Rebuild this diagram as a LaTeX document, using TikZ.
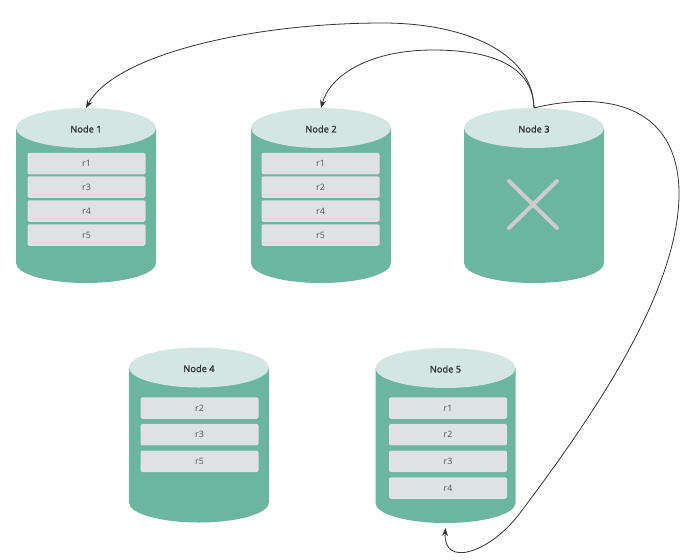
\documentclass[tikz,border=0pt]{standalone}
\usepackage{fontspec}
\setmainfont{Open Sans}
\newfontfamily\semib[FakeBold=1.4]{Open Sans}
\usetikzlibrary{arrows.meta}
\definecolor{bodyc}{HTML}{6BB5A1}
\definecolor{topc}{HTML}{D4E6E2}
\definecolor{boxc}{HTML}{E0E1E5}
\definecolor{linec}{HTML}{333333}
\definecolor{xc}{HTML}{CCCCCC}
\tikzset{
  cylbox/.style={minimum width=140pt, minimum height=175pt, inner sep=0pt, outer sep=0pt},
  cyllabel/.style={font=\semib\fontsize{9.3}{10}\selectfont, text=linec, inner sep=0pt},
  rbox/.style={fill=boxc, rounded corners=2pt, minimum width=118pt, minimum height=21.5pt, inner sep=0pt, font=\fontsize{8.8}{10}\selectfont, text=linec!85},
  conn/.style={draw=linec, line width=0.8pt, -{Stealth[length=8pt,width=6pt]}},
  xmark/.style={draw=xc, line width=4pt, line cap=round},
}
% name, cx, top edge y (pixels, downward)
\newcommand\dbcyl[4]{%
  \node[cylbox] (#1) at (#2,-#3-87.5) {};
  \fill[bodyc] (#2-70,-#3-20) -- (#2-70,-#3-155) arc[start angle=180,end angle=360,x radius=70,y radius=20] -- (#2+70,-#3-20) -- cycle;
  \fill[topc] (#2,-#3-20) ellipse[x radius=70,y radius=20];
  \node[cyllabel] (#1lbl) at (#2,-#3-21) {#4};
}
\begin{document}
\begin{tikzpicture}[x=1pt,y=1pt]
\useasboundingbox (0,0) rectangle (694,-560);

\dbcyl{n1}{86}{108}{Node 1}
\dbcyl{n2}{321}{108}{Node 2}
\dbcyl{n3}{534}{108}{Node 3}
\dbcyl{n4}{199}{347.5}{Node 4}
\dbcyl{n5}{445.5}{348}{Node 5}

% Node 1
\node[rbox] (n1a) at (86.5,-163.5) {r1};
\node[rbox] (n1b) at (86.5,-187) {r3};
\node[rbox] (n1c) at (86.5,-211) {r4};
\node[rbox] (n1d) at (86.5,-235) {r5};
% Node 2
\node[rbox] (n2a) at (320.5,-163.5) {r1};
\node[rbox] (n2b) at (320.5,-187) {r2};
\node[rbox] (n2c) at (320.5,-211) {r4};
\node[rbox] (n2d) at (320.5,-235) {r5};
% Node 3 (failed)
\draw[xmark] (509,-181) -- (557,-228) (557,-181) -- (509,-228);
% Node 4
\node[rbox] (n4a) at (199.5,-408) {r2};
\node[rbox] (n4b) at (199.5,-434.7) {r3};
\node[rbox] (n4c) at (199.5,-461.3) {r5};
% Node 5
\node[rbox] (n5a) at (448,-408) {r1};
\node[rbox] (n5b) at (448,-434.7) {r2};
\node[rbox] (n5c) at (448,-461.3) {r3};
\node[rbox] (n5d) at (448,-488) {r4};

% connectors
\draw[conn] (n3.north) .. controls (533,-50) and (460,-23) .. (383,-23)
  .. controls (250,-23) and (115,-55) .. (n1.north);
\draw[conn] (n3.north) .. controls (533,-65) and (490,-50) .. (433,-50)
  .. controls (370,-50) and (330,-75) .. (n2.north);
\draw[conn] (n3.north) .. controls (590,-94) and (676,-95) .. (679,-190)
  .. controls (681,-290) and (590,-420) .. (520,-513)
  .. controls (490,-553) and (443,-568) .. ([yshift=-5pt]n5.south);
\end{tikzpicture}
\end{document}
